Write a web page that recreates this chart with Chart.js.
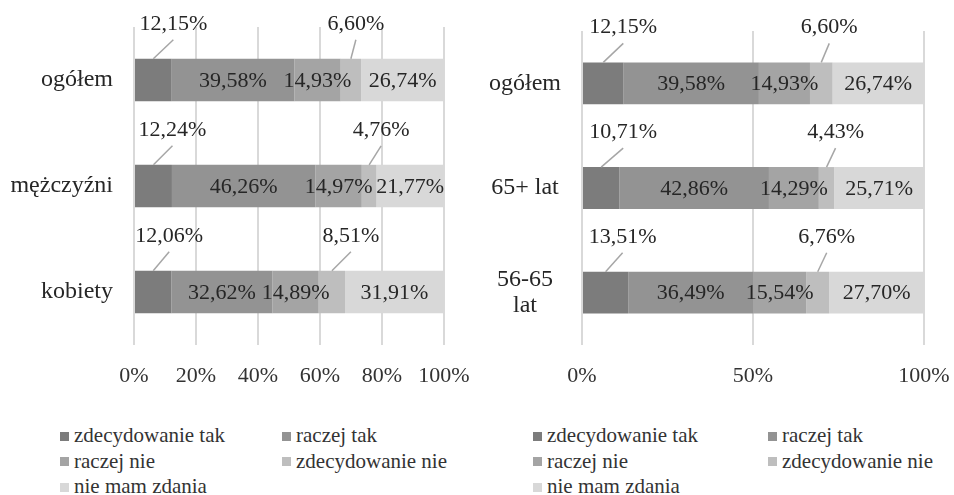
<!DOCTYPE html>
<html lang="pl">
<head>
<meta charset="utf-8">
<script src="https://cdn.jsdelivr.net/npm/chart.js@4.4.1/dist/chart.umd.min.js"></script>
<style>
  html, body { margin: 0; padding: 0; background: #fff; }
  body { width: 954px; height: 495px; position: relative; overflow: hidden; }
  .panel { position: absolute; top: 0; height: 400px; }
  .legend {
    position: absolute; top: 423px; display: grid;
    font: 21px "Liberation Serif", "Times New Roman", serif;
    line-height: 25.5px; color: #333; white-space: nowrap;
  }
  .legend .box { display: inline-block; width: 9px; height: 9px; margin-right: 5px; vertical-align: middle; position: relative; top: -1px; }
</style>
</head>
<body>
<div class="panel" style="left:0;width:470px"><canvas id="genderChart" width="470" height="400"></canvas></div>
<div class="panel" style="left:470px;width:484px"><canvas id="ageChart" width="484" height="400"></canvas></div>
<div class="legend" id="genderLegend" style="left:60px;grid-template-columns:222px auto"></div>
<div class="legend" id="ageLegend" style="left:533px;grid-template-columns:235px auto"></div>

<script>
// Series shared by both panels
const seriesNames = ['zdecydowanie tak', 'raczej tak', 'raczej nie', 'zdecydowanie nie', 'nie mam zdania'];
const seriesColors = ['#7c7c7c', '#939393', '#a4a4a4', '#bebebe', '#d8d8d8'];

// Left panel: by gender
const genderCategories = ['ogółem', 'mężczyźni', 'kobiety'];
const genderDefinitelyYes = [12.15, 12.24, 12.06];
const genderRatherYes = [39.58, 46.26, 32.62];
const genderRatherNo = [14.93, 14.97, 14.89];
const genderDefinitelyNo = [6.60, 4.76, 8.51];
const genderNoOpinion = [26.74, 21.77, 31.91];
const genderTickStep = 20;

// Right panel: by age
const ageCategories = ['ogółem', '65+ lat', ['56-65', 'lat']];
const ageDefinitelyYes = [12.15, 10.71, 13.51];
const ageRatherYes = [39.58, 42.86, 36.49];
const ageRatherNo = [14.93, 14.29, 15.54];
const ageDefinitelyNo = [6.60, 4.43, 6.76];
const ageNoOpinion = [26.74, 25.71, 27.70];
const ageTickStep = 50;

// Labels of these series sit above the bar with a leader line
const calloutSeries = [0, 3];
const genderCalloutShift = [[20, 19, 16], [5, 12, 19]];
const ageCalloutShift = [[20, 22, 17], [8, 9, 9]];

const serif = '"Liberation Serif", "Times New Roman", serif';
Chart.defaults.font.family = serif;

function formatPct(v) {
  return v.toFixed(2).replace('.', ',') + '%';
}

const barLabels = {
  id: 'barLabels',
  afterDatasetsDraw(chart, args, opts) {
    const ctx = chart.ctx;
    ctx.save();
    ctx.font = '22px ' + serif;
    ctx.fillStyle = '#262626';
    ctx.textAlign = 'center';
    ctx.textBaseline = 'middle';
    chart.data.datasets.forEach((ds, i) => {
      const meta = chart.getDatasetMeta(i);
      meta.data.forEach((bar, j) => {
        const { x, y, base, height } = bar.getProps(['x', 'y', 'base', 'height'], true);
        const cx = (x + base) / 2;
        const text = formatPct(ds.rawValues[j]);
        const row = calloutSeries.indexOf(i);
        if (row < 0) {
          ctx.fillText(text, cx, y + 1);
          return;
        }
        const top = y - height / 2;
        const dx = opts.shift[row][j];
        ctx.strokeStyle = '#a6a6a6';
        ctx.lineWidth = 1.5;
        ctx.beginPath();
        ctx.moveTo(cx, top);
        ctx.lineTo(cx + dx, top - 19);
        ctx.stroke();
        ctx.fillText(text, cx + dx, top - 35);
      });
    });
    ctx.restore();
  }
};

function makeChart(canvasId, categories, values, opts) {
  // 100% stacked: every bar is scaled to its own total, labels keep the raw values
  const totals = categories.map((c, j) => values.reduce((sum, s) => sum + s[j], 0));
  const datasets = values.map((data, i) => ({
    label: seriesNames[i],
    data: data.map((v, j) => v / totals[j] * 100),
    rawValues: data,
    backgroundColor: seriesColors[i],
    borderWidth: 0,
    barPercentage: 0.4,
    categoryPercentage: 1
  }));

  return new Chart(document.getElementById(canvasId), {
    type: 'bar',
    data: { labels: categories, datasets: datasets },
    plugins: [barLabels],
    options: {
      indexAxis: 'y',
      responsive: false,
      animation: false,
      layout: { padding: { top: opts.top, right: opts.right, left: 0, bottom: 0 } },
      plugins: {
        legend: { display: false },
        tooltip: { enabled: false },
        barLabels: { shift: opts.shift }
      },
      scales: {
        x: {
          stacked: true,
          min: 0,
          max: 100,
          ticks: {
            stepSize: opts.step,
            padding: 18,
            color: '#333',
            font: { size: 22 },
            maxRotation: 0,
            callback: v => v + '%'
          },
          grid: { color: '#d9d9d9', lineWidth: 2, drawTicks: false },
          border: { display: false },
          afterFit: scale => {
            scale.height = 55;
            scale.paddingLeft = 0;
            scale.paddingRight = 0;
          }
        },
        y: {
          stacked: true,
          ticks: {
            padding: 21,
            color: '#262626',
            font: { size: 24, lineHeight: 1.12 },
            crossAlign: opts.crossAlign
          },
          grid: { display: false, drawTicks: false },
          border: { display: false },
          afterFit: scale => {
            scale.width = opts.axisWidth;
            scale.paddingTop = 0;
            scale.paddingBottom = 0;
          }
        }
      }
    }
  });
}

function buildLegend(id) {
  const el = document.getElementById(id);
  seriesNames.forEach((name, i) => {
    const item = document.createElement('div');
    const box = document.createElement('span');
    box.className = 'box';
    box.style.background = seriesColors[i];
    item.appendChild(box);
    item.appendChild(document.createTextNode(name));
    el.appendChild(item);
  });
}

makeChart('genderChart', genderCategories,
  [genderDefinitelyYes, genderRatherYes, genderRatherNo, genderDefinitelyNo, genderNoOpinion],
  { top: 27, right: 26, axisWidth: 134, step: genderTickStep, shift: genderCalloutShift, crossAlign: 'near' });

makeChart('ageChart', ageCategories,
  [ageDefinitelyYes, ageRatherYes, ageRatherNo, ageDefinitelyNo, ageNoOpinion],
  { top: 31, right: 30, axisWidth: 112, step: ageTickStep, shift: ageCalloutShift, crossAlign: 'center' });

buildLegend('genderLegend');
buildLegend('ageLegend');
</script>
</body>
</html>
